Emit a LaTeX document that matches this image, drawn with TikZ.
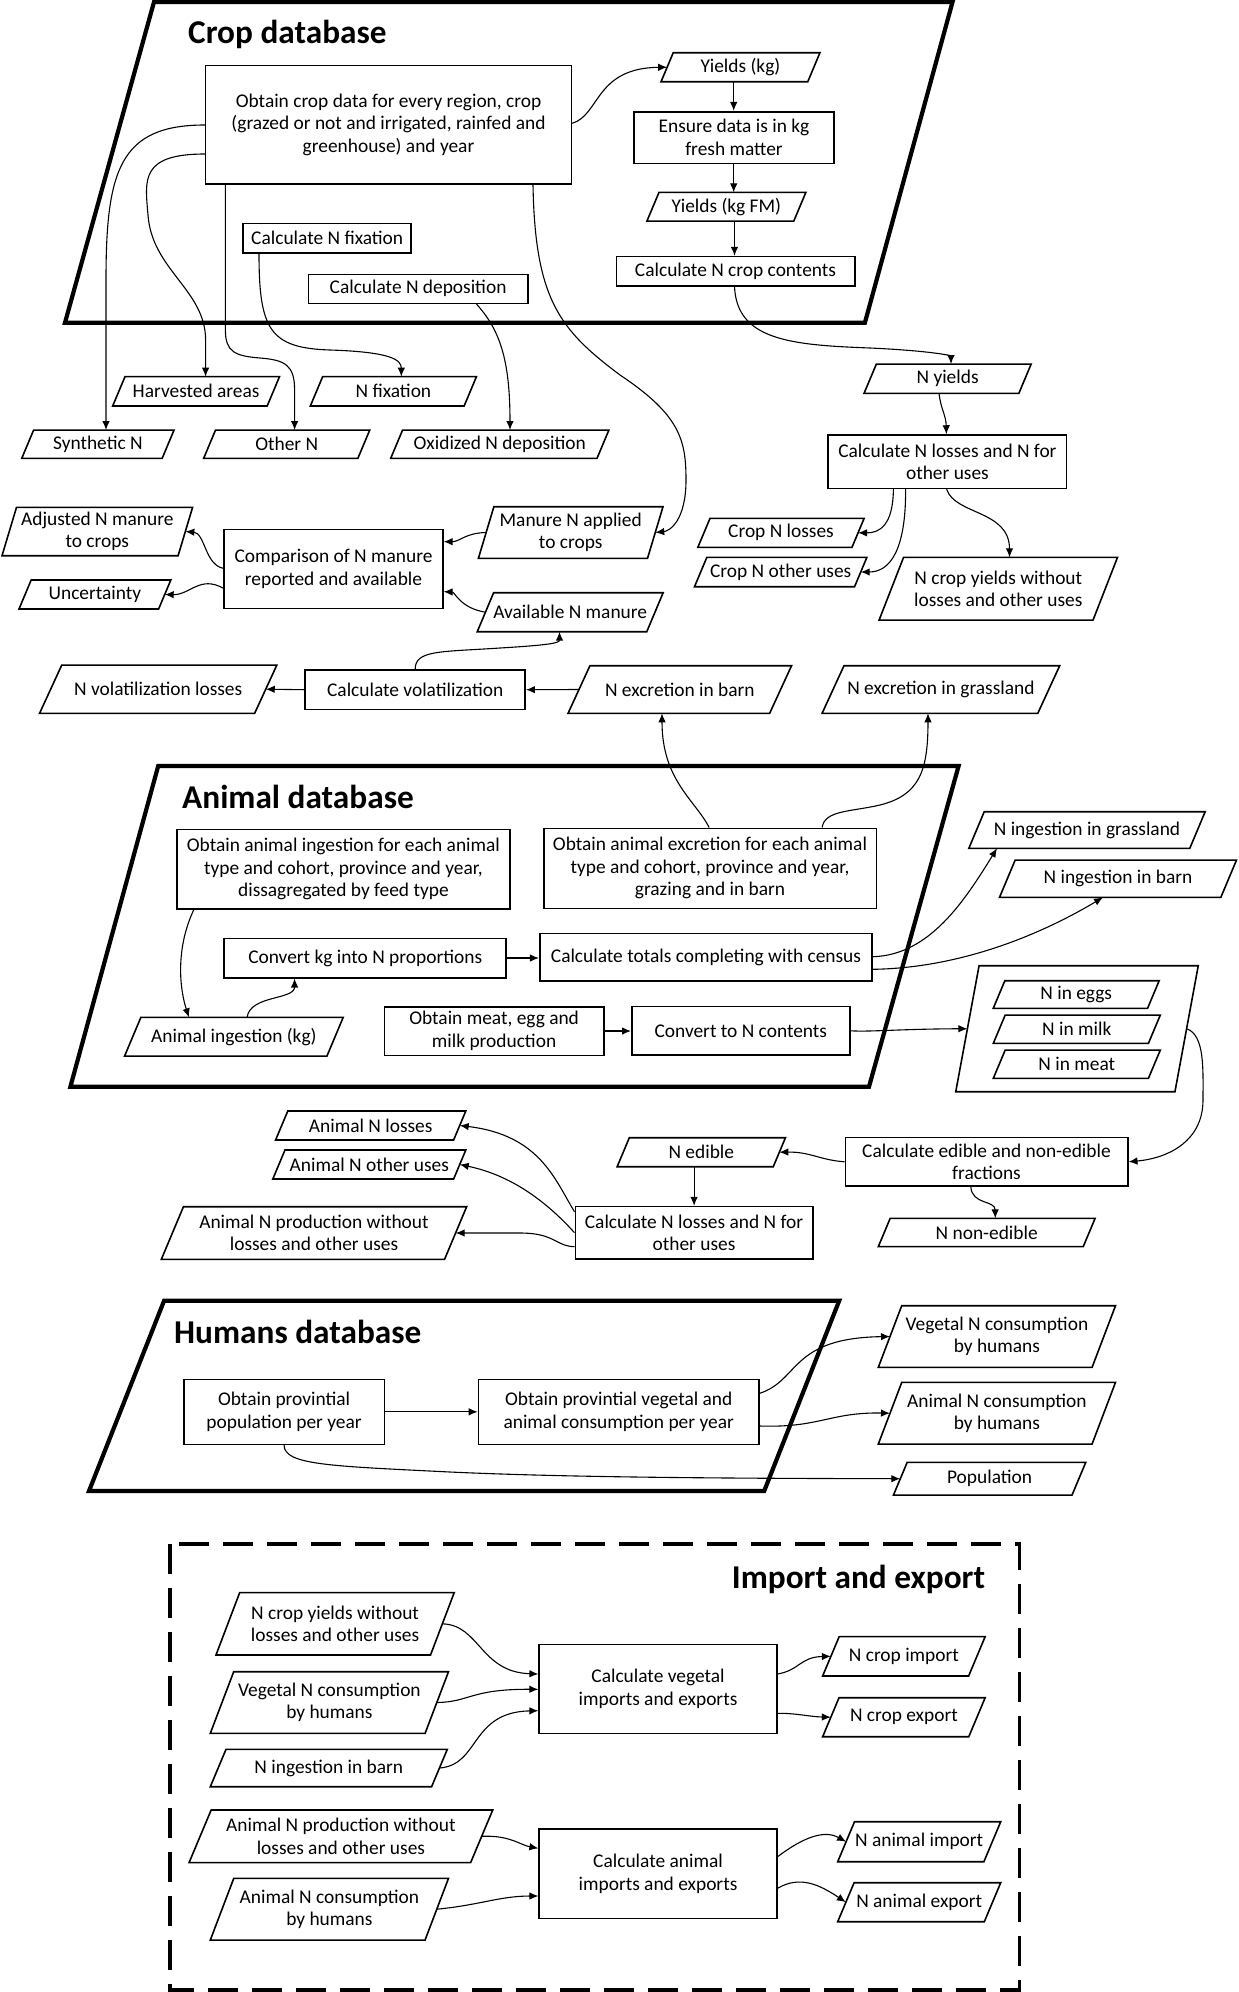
\documentclass[tikz,border=0pt]{standalone}
\usepackage{fontspec}
\setmainfont{Carlito}
\usetikzlibrary{arrows.meta,calc}
\newcommand\dfont{\fontsize{19.4}{22.6}\selectfont}
\newcommand\tfont{\fontsize{33.3}{39}\selectfont\bfseries}
% #1 slant factor, #2 name, #3 centre, #4 bbox width, #5 height, #6 text
\newcommand\iobox[6][0.42]{%
  \pgfmathsetmacro\pw{#4-#1*#5}%
  \pgfmathsetmacro\ps{#1*#5/2}%
  \node[ptext, minimum width=\pw pt, minimum height=#5pt] (#2) at (#3) {#6};
  \draw[pline] ([xshift=-\ps pt]#2.south west) -- ([xshift=\ps pt]#2.north west) -- ([xshift=\ps pt]#2.north east) -- ([xshift=-\ps pt]#2.south east) -- cycle;
}
\begin{document}
\begin{tikzpicture}[x=1pt,y=-1pt,
  box/.style={draw, line width=1.6pt, align=center, inner sep=0pt, font=\dfont},
  ptext/.style={align=center, inner sep=0pt, outer sep=0pt, font=\dfont},
  pline/.style={line width=1.6pt, line join=miter},
  db/.style={line width=4.2pt, line join=miter},
  arr/.style={line width=1.1pt, -{Latex[length=9pt,width=7.5pt]}},
  title/.style={font=\tfont, inner sep=0pt}]
\useasboundingbox (0,0) rectangle (1239,1992);

% ---------- database frames ----------
\draw[db] (154,2) -- (952.5,2) -- (864.9,322.7) -- (65,322.7) -- cycle;
\draw[db] (158.2,766) -- (958.6,766) -- (869,1086.7) -- (70.4,1086.7) -- cycle;
\draw[db] (164.1,1300.7) -- (839.2,1300.7) -- (764.2,1491) -- (89,1491) -- cycle;
\draw[line width=3.6pt, dash pattern=on 30pt off 14pt] (170.1,1544) rectangle (1019.6,1990);

\node[title, anchor=base west] (tcrop) at (188,43) {Crop database};
\node[title, anchor=base west] (tani) at (182,808.3) {Animal database};
\node[title, anchor=base west] (thum) at (174,1343.3) {Humans database};
\node[title, anchor=base east] (timp) at (985.2,1588.3) {Import and export};

% ---------- crop section ----------
\node[box, minimum width=365.8pt, minimum height=118.3pt] (crop) at (388.5,124.8) {Obtain crop data for every region, crop\\(grazed or not and irrigated, rainfed and\\greenhouse) and year};
\node[box, minimum width=200.5pt, minimum height=51.6pt] (ensure) at (734,137.5) {Ensure data is in kg\\fresh matter};
\node[box, minimum width=238.4pt, minimum height=29.3pt] (ncontent) at (735.5,271.3) {Calculate N crop contents};
\node[box, minimum width=168pt, minimum height=29.4pt] (nfixcalc) at (327.2,238) {Calculate N fixation};
\node[box, minimum width=219.5pt, minimum height=29pt] (ndepcalc) at (418.1,288.8) {Calculate N deposition};
\node[box, minimum width=238.4pt, minimum height=53.3pt] (closs) at (947.4,461.7) {Calculate N losses and N for\\other uses};
\node[box, minimum width=218.6pt, minimum height=79pt] (compare) at (333.5,568.8) {Comparison of N manure\\reported and available};
\node[box, minimum width=219.9pt, minimum height=39.3pt] (volat) at (415.2,689.7) {Calculate volatilization};

\iobox{yk}{740.5,67.2}{158.9}{29}{Yields (kg)}
\iobox{ykfm}{726.4,206.7}{158.9}{28.7}{Yields (kg FM)}
\iobox{harv}{196.1,391.3}{166.8}{29.3}{Harvested areas}
\iobox{nfix}{393.4,391.3}{166.1}{29.3}{N fixation}
\iobox{synth}{97.9,444.2}{152.3}{28.3}{Synthetic N}
\iobox{other}{286.7,444.2}{166.1}{28.3}{Other N}
\iobox{oxid}{499.8,444.2}{218.2}{28.3}{Oxidized N deposition}
\iobox{nyield}{947.6,378.7}{167.1}{29.3}{N yields}
\iobox[0.3]{adjust}{97.3,531.5}{190.6}{48.4}{Adjusted N manure\\to crops}
\iobox{uncert}{94.9,594.5}{151.8}{29}{Uncertainty}
\iobox[0.3]{manure}{570.7,532.5}{184.6}{51.6}{Manure N applied\\to crops}
\iobox{avail}{570.2,612.2}{185.9}{39}{Available N manure}
\iobox{closs1}{781,532.8}{166.3}{29}{Crop N losses}
\iobox{cother}{780.7,572}{172.4}{29.4}{Crop N other uses}
\iobox[0.39]{cyield}{998.3,588.7}{238.4}{62.7}{N crop yields without\\losses and other uses}
\iobox[0.46]{nvol}{158.2,689.2}{237.3}{48.3}{N volatilization losses}
\iobox[0.46]{exbarn}{679.8,689.5}{223.5}{47.6}{N excretion in barn}
\iobox[0.46]{exgrass}{940.9,689.5}{237.6}{47.6}{N excretion in grassland}

% ---------- animal section ----------
\node[box, minimum width=333.3pt, minimum height=79.7pt] (ingest) at (343.4,869.2) {Obtain animal ingestion for each animal\\type and cohort, province and year,\\dissagregated by feed type};
\node[box, minimum width=332.6pt, minimum height=80pt] (excret) at (710,868.3) {Obtain animal excretion for each animal\\type and cohort, province and year,\\grazing and in barn};
\node[box, minimum width=281.9pt, minimum height=39.4pt] (convkg) at (365.2,958) {Convert kg into N proportions};
\node[box, minimum width=332.5pt, minimum height=47.4pt] (totals) at (706,957) {Calculate totals completing with census};
\node[box, minimum width=219.5pt, minimum height=48.6pt] (meat) at (494.1,1031) {Obtain meat, egg and\\milk production};
\node[box, minimum width=218pt, minimum height=48.3pt] (convN) at (740.8,1030.8) {Convert to N contents};
\node[box, minimum width=282.4pt, minimum height=48.3pt] (edible) at (986.5,1161.8) {Calculate edible and non-edible\\fractions};
\node[box, minimum width=237.4pt, minimum height=52.3pt] (aloss) at (694,1232.8) {Calculate N losses and N for\\other uses};

\iobox{ingrass}{1087,830}{236.3}{36.6}{N ingestion in grassland}
\iobox{inbarn}{1118,878.7}{237}{37.3}{N ingestion in barn}
\iobox{aingkg}{233.9,1036.7}{218.6}{38.7}{Animal ingestion (kg)}
\iobox[0.185]{cont}{1077,1028.7}{242.5}{126}{}
\iobox{eggs}{1076.2,994.5}{165.9}{27.6}{N in eggs}
\iobox{milk}{1076.8,1029.2}{167}{28.3}{N in milk}
\iobox{meatN}{1076.8,1064.2}{167}{28.3}{N in meat}
\iobox{aloss1}{370.7,1125.5}{190.2}{29}{Animal N losses}
\iobox{aother}{369.3,1164.5}{193}{29}{Animal N other uses}
\iobox{aprod}{314,1233}{305.3}{52.6}{Animal N production without\\losses and other uses}
\iobox{nedible}{701.3,1152.2}{168.3}{29}{N edible}
\iobox{nonedible}{986.7,1232.5}{216.8}{28.3}{N non-edible}

% ---------- humans section ----------
\node[box, minimum width=200.4pt, minimum height=65pt] (pop) at (284.1,1411.8) {Obtain provintial\\population per year};
\node[box, minimum width=280.5pt, minimum height=65pt] (cons) at (618.7,1411.8) {Obtain provintial vegetal and\\animal consumption per year};
\iobox[0.38]{vegcons}{996.9,1336.5}{237.2}{61.6}{Vegetal N consumption\\by humans}
\iobox[0.38]{anicons}{996.9,1413.2}{237.2}{61.7}{Animal N consumption\\by humans}
\iobox{popout}{989.6,1478.7}{192.3}{32.7}{Population}

% ---------- import / export ----------
\node[box, minimum width=237.6pt, minimum height=89pt] (vegcalc) at (658,1688.8) {Calculate vegetal\\imports and exports};
\node[box, minimum width=237.6pt, minimum height=89.3pt] (anicalc) at (658,1873.7) {Calculate animal\\imports and exports};
\iobox[0.38]{icyield}{335.1,1623.8}{238.2}{62.3}{N crop yields without\\losses and other uses}
\iobox[0.38]{ivegcons}{329.4,1702.5}{238.2}{61.6}{Vegetal N consumption\\by humans}
\iobox{iinbarn}{328.8,1768}{237}{37.4}{N ingestion in barn}
\iobox{iaprod}{340.9,1836.3}{303.7}{52.7}{Animal N production without\\losses and other uses}
\iobox[0.38]{ianicons}{329.4,1909.2}{238.2}{61.7}{Animal N consumption\\by humans}
\iobox{cimp}{903.9,1656.3}{162.5}{39.3}{N crop import}
\iobox{cexp}{903.9,1717.2}{162.5}{39}{N crop export}
\iobox{aimp}{919.2,1841.7}{163}{40}{N animal import}
\iobox{aexp}{919.2,1902.2}{163}{39}{N animal export}

% ---------- connectors: crop ----------
\draw[arr] (crop.east |- 0,123.3) .. controls (600,115) and (595,68) .. (yk.west);
\draw[arr] (yk.south -| 733.7,0) -- (ensure.north -| 733.7,0);
\draw[arr] (ensure.south -| 733.7,0) -- (ykfm.north -| 733.7,0);
\draw[arr] (ykfm.south -| 734.5,0) -- (ncontent.north -| 734.5,0);
\draw[arr] (ncontent.south -| 734.5,0) .. controls (737,340) and (790,345) .. (870,348) .. controls (935,351) and (951,356) .. (nyield.north -| 951,0);
\draw[arr] (nyield.south -| 939,0) .. controls (941,410) and (946,415) .. (closs.north -| 946.4,0);
\draw[arr] (crop.west |- 0,125) .. controls (120,125) and (106,170) .. (106,280) -- (synth.north -| 106,0);
\draw[arr] (crop.west |- 0,154) .. controls (140,154) and (145,180) .. (148,215) .. controls (152,270) and (205.6,290) .. (205.6,340) -- (harv.north -| 205.6,0);
\draw[arr] (crop.south -| 225.4,0) -- (225.4,330) .. controls (225.4,352) and (235,356) .. (260,358) .. controls (285,360) and (294.6,365) .. (294.6,390) -- (other.north -| 294.6,0);
\draw[arr] (nfixcalc.south -| 259,0) .. controls (259,330) and (270,348) .. (330,350) .. controls (392,352) and (401.3,360) .. (nfix.north -| 401.3,0);
\draw[arr] (ndepcalc.south -| 476.5,0) .. controls (500,330) and (510,360) .. (oxid.north -| 510,0);
\draw[arr] (crop.south -| 533,0) .. controls (535,300) and (560,330) .. (620,375) .. controls (680,415) and (686,440) .. (686,480) .. controls (686,520) and (670,531) .. (manure.east);
\draw[arr] (closs.south -| 893.4,0) .. controls (893,525) and (880,533) .. (closs1.east);
\draw[arr] (closs.south -| 905.6,0) .. controls (906,550) and (890,572) .. (cother.east);
\draw[arr] (closs.south -| 946.6,0) .. controls (955,515) and (1009.5,510) .. (cyield.north -| 1009.5,0);
\draw[arr] (manure.west) .. controls (465,533) and (460,541.7) .. (compare.east |- 0,541.7);
\draw[arr] (avail.west) .. controls (460,608) and (455,592) .. (compare.east |- 0,591.7);
\draw[arr] (compare.west |- 0,568.3) .. controls (205,565) and (205,533) .. (adjust.east);
\draw[arr] (compare.west |- 0,588.3) .. controls (200,575) and (190,595) .. (uncert.east);
\draw[arr] (volat.west) -- (nvol.east);
\draw[arr] (exbarn.west) -- (volat.east);
\draw[arr] (volat.north) .. controls (415,650) and (440,652) .. (500,648) .. controls (550,645) and (559.5,643) .. (avail.south -| 559.5,0);

% ---------- connectors: animal ----------
\draw[arr] (excret.north -| 709.2,0) .. controls (695,800) and (662,780) .. (exbarn.south -| 662,0);
\draw[arr] (excret.north -| 822.1,0) .. controls (825,810) and (850,812) .. (880,805) .. controls (920,795) and (928,770) .. (exgrass.south -| 928,0);
\draw[arr] (ingest.south -| 193.7,0) .. controls (175,950) and (180,990) .. (aingkg.north -| 189,0);
\draw[arr] (aingkg.north -| 247.1,0) .. controls (250,995) and (294.6,1000) .. (convkg.south -| 294.6,0);
\draw[arr] (convkg.east) -- (convkg.east -| totals.west);
\draw[arr] (totals.east |- 0,956.7) .. controls (930,955) and (965,900) .. (ingrass.south -| 997,0);
\draw[arr] (totals.east |- 0,969.3) .. controls (960,968) and (1040,935) .. (inbarn.south -| 1103,0);
\draw[arr] (meat.east) -- (meat.east -| convN.west);
\draw[arr] (convN.east) .. controls (870,1032) and (900,1029) .. (cont.west);
\draw[arr] (cont.east) .. controls (1205,1035) and (1203,1070) .. (1203,1100) .. controls (1203,1140) and (1170,1158) .. (edible.east);
\draw[arr] (edible.west) .. controls (820,1160) and (810,1151.7) .. (nedible.east);
\draw[arr] (nedible.south -| 694.1,0) -- (aloss.north -| 694.1,0);
\draw[arr] (edible.south -| 970.8,0) .. controls (972,1205) and (995,1200) .. (nonedible.north -| 995.3,0);
\draw[arr] (aloss.west |- 0,1211.7) .. controls (555,1180) and (540,1135) .. (aloss1.east);
\draw[arr] (aloss.west |- 0,1232.7) .. controls (545,1200) and (510,1175) .. (aother.east);
\draw[arr] (aloss.west |- 0,1246.7) .. controls (555,1246) and (555,1233) .. (520,1233) -- (aprod.east);

% ---------- connectors: humans ----------
\draw[arr] (pop.east) -- (cons.west);
\draw[arr] (pop.south) .. controls (284,1465) and (330,1466) .. (450,1472) .. controls (560,1477) and (700,1478.3) .. (popout.west);
\draw[arr] (cons.east |- 0,1393.3) .. controls (800,1380) and (790,1338) .. (vegcons.west);
\draw[arr] (cons.east |- 0,1426) .. controls (820,1428) and (830,1412) .. (anicons.west);

% ---------- connectors: import/export ----------
\draw[arr] (icyield.east) .. controls (480,1625) and (480,1672) .. (vegcalc.west |- 0,1674);
\draw[arr] (ivegcons.east) .. controls (470,1702) and (470,1689) .. (vegcalc.west |- 0,1689.3);
\draw[arr] (iinbarn.east) .. controls (480,1765) and (470,1712) .. (vegcalc.west |- 0,1710.7);
\draw[arr] (vegcalc.east |- 0,1674) .. controls (800,1670) and (800,1657) .. (cimp.west);
\draw[arr] (vegcalc.east |- 0,1713.3) .. controls (795,1713) and (810,1716.7) .. (cexp.west);
\draw[arr] (iaprod.east) .. controls (510,1835) and (520,1845) .. (anicalc.west |- 0,1848.3);
\draw[arr] (ianicons.east) .. controls (480,1905) and (500,1896) .. (anicalc.west |- 0,1896);
\draw[arr] (anicalc.east |- 0,1856.7) .. controls (805,1836) and (825,1830) .. (aimp.west);
\draw[arr] (anicalc.east |- 0,1888.3) .. controls (800,1875) and (820,1885) .. (aexp.west);
\end{tikzpicture}
\end{document}
